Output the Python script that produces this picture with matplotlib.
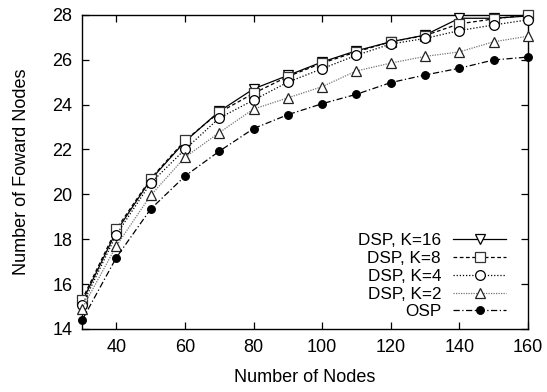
import matplotlib
matplotlib.use("Agg")
import matplotlib.pyplot as plt

plt.rcParams['font.family'] = ['Liberation Sans', 'DejaVu Sans']

nodes = [30, 40, 50, 60, 70, 80, 90, 100, 110, 120, 130, 140, 150, 160]
dsp_k16 = [15.2, 18.35, 20.65, 22.35, 23.7, 24.7, 25.3, 25.9, 26.4, 26.8, 27.1, 27.85, 27.85, 27.95]
dsp_k8 = [15.3, 18.45, 20.7, 22.4, 23.65, 24.5, 25.25, 25.85, 26.35, 26.8, 27.08, 27.6, 27.82, 28.0]
dsp_k4 = [15.05, 18.2, 20.5, 22.0, 23.4, 24.2, 25.0, 25.6, 26.2, 26.7, 26.95, 27.3, 27.55, 27.78]
dsp_k2 = [14.9, 17.7, 19.95, 21.65, 22.75, 23.8, 24.3, 24.8, 25.5, 25.85, 26.15, 26.35, 26.8, 27.05]
osp = [14.38, 17.18, 19.34, 20.81, 21.92, 22.93, 23.55, 24.04, 24.46, 24.98, 25.32, 25.62, 25.99, 26.12]

labels = ["DSP, K=16", "DSP, K=8", "DSP, K=4", "DSP, K=2", "OSP"]
series = [dsp_k16, dsp_k8, dsp_k4, dsp_k2, osp]
styles = [
    dict(color='black', linestyle='-', marker='v', mfc='white', mec='black', ms=7),
    dict(color='black', linestyle=(0, (3, 2)), marker='s', mfc='white', mec='#333333', ms=7),
    dict(color='black', linestyle=(0, (1, 1.5)), marker='o', mfc='white', mec='black', ms=7),
    dict(color='#777777', linestyle=(0, (1, 1)), marker='^', mfc='white', mec='#222222', ms=7),
    dict(color='black', linestyle=(0, (5, 2, 1, 2)), marker='o', mfc='black', mec='black', ms=5.5),
]

FS = 13

fig = plt.figure(figsize=(5.47, 3.92), dpi=100)
ax = fig.add_axes([0.15, 0.161, 0.815, 0.801])

for lab, ys, st in zip(labels, series, styles):
    ax.plot(nodes, ys, label=lab, linewidth=0.9, markeredgewidth=0.9,
            zorder=3, clip_on=False, **st)

ax.set_xlim(30, 160)
ax.set_ylim(14, 28)
ax.set_xticks([40, 60, 80, 100, 120, 140, 160])
ax.set_yticks([14, 16, 18, 20, 22, 24, 26, 28])
ax.tick_params(direction='in', top=True, right=True, length=5, width=0.9, labelsize=FS)
ax.tick_params(axis='x', pad=7.5)
ax.tick_params(axis='y', pad=7)
for s in ax.spines.values():
    s.set_linewidth(1.0)

ax.set_xlabel("Number of Nodes", fontsize=FS, labelpad=9)
ax.set_ylabel("Number of Foward Nodes", fontsize=FS, labelpad=16)

leg = ax.legend(loc='lower right', bbox_to_anchor=(0.951, 0.03), frameon=False,
                markerfirst=False, fontsize=12.3, handlelength=3.1, handletextpad=0.7,
                labelspacing=0.17, borderpad=0, borderaxespad=0)

fig.savefig("out.png", dpi=100)
